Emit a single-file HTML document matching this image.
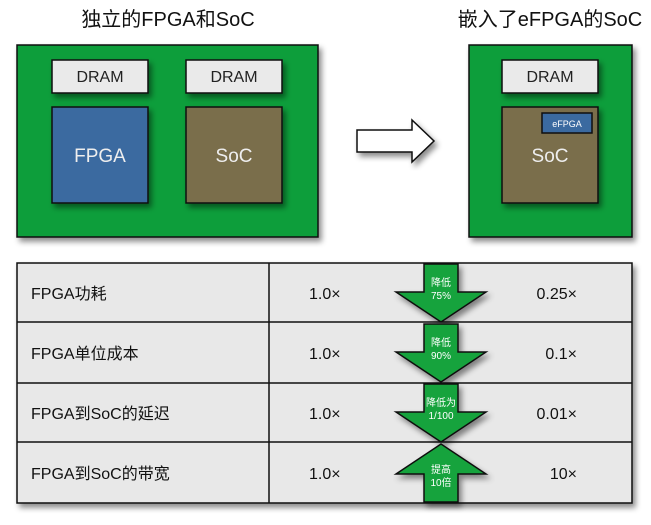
<!DOCTYPE html>
<html><head><meta charset="utf-8"><style>
body{margin:0;background:#fff;width:651px;height:520px;overflow:hidden}
svg text{font-family:"Liberation Sans","Noto Sans CJK SC",sans-serif}
</style></head><body>
<svg width="651" height="520" viewBox="0 0 651 520" xmlns="http://www.w3.org/2000/svg">
<defs>
<filter id="sh" x="-10%" y="-10%" width="130%" height="130%"><feDropShadow dx="3" dy="4" stdDeviation="3" flood-color="#000" flood-opacity="0.45"/></filter>
</defs>
<text x="168" y="26" font-size="20" text-anchor="middle" fill="#111">独立的FPGA和SoC</text>
<text x="550" y="26" font-size="20" text-anchor="middle" fill="#111">嵌入了eFPGA的SoC</text>
<rect x="17" y="45" width="301" height="192" fill="#0a9e3a" stroke="#111" stroke-width="1.5" filter="url(#sh)"/>
<rect x="469" y="45" width="163" height="192" fill="#0a9e3a" stroke="#111" stroke-width="1.5" filter="url(#sh)"/>
<g stroke="#111" stroke-width="1.5" filter="url(#sh)">
<rect x="52" y="60" width="96" height="33" fill="#eaeaea"/>
<rect x="186" y="60" width="96" height="33" fill="#eaeaea"/>
<rect x="502" y="60" width="96" height="33" fill="#eaeaea"/>
<rect x="52" y="107" width="96" height="96" fill="#3a6aa0"/>
<rect x="186" y="107" width="96" height="96" fill="#7a6e4c"/>
<rect x="502" y="107" width="96" height="96" fill="#7a6e4c"/>
<rect x="542" y="113" width="50" height="20" fill="#3a6aa0"/>
</g>
<g font-size="16" text-anchor="middle" fill="#222">
<text x="100" y="82">DRAM</text><text x="234" y="82">DRAM</text><text x="550" y="82">DRAM</text>
</g>
<g font-size="19" text-anchor="middle" fill="#eee">
<text x="100" y="162">FPGA</text><text x="234" y="162">SoC</text><text x="550" y="162">SoC</text>
</g>
<text x="567" y="127" font-size="9" text-anchor="middle" fill="#fff">eFPGA</text>
<path d="M357,130 H412 V120 L434,141 L412,162 V152 H357 Z" fill="#fff" stroke="#111" stroke-width="1.5" filter="url(#sh)"/>
<g filter="url(#sh)">
<rect x="17" y="263" width="615" height="240" fill="#e8e8e8" stroke="#111" stroke-width="1.5"/>
</g>
<g stroke="#111" stroke-width="1.5">
<line x1="17" y1="322" x2="632" y2="322"/><line x1="17" y1="383" x2="632" y2="383"/><line x1="17" y1="442" x2="632" y2="442"/>
<line x1="269" y1="263" x2="269" y2="503"/>
</g>
<g font-size="16" fill="#111">
<text x="31" y="299">FPGA功耗</text>
<text x="31" y="359">FPGA单位成本</text>
<text x="31" y="419">FPGA到SoC的延迟</text>
<text x="31" y="479">FPGA到SoC的带宽</text>
<text x="309" y="299">1.0×</text><text x="309" y="359">1.0×</text><text x="309" y="419">1.0×</text><text x="309" y="479">1.0×</text>
</g>
<g font-size="16" fill="#111" text-anchor="end">
<text x="577" y="299">0.25×</text><text x="577" y="359">0.1×</text><text x="577" y="419">0.01×</text><text x="577" y="479">10×</text>
</g>
<g fill="#16a33c" stroke="#111" stroke-width="1.5" filter="url(#sh)">
<path d="M424,264 H458 V292 H486 L441,322 L396,292 H424 Z"/>
<path d="M424,324 H458 V352 H486 L441,382 L396,352 H424 Z"/>
<path d="M424,384 H458 V412 H486 L441,442 L396,412 H424 Z"/>
<path d="M424,502 H458 V474 H486 L441,444 L396,474 H424 Z"/>
</g>
<g font-size="10" fill="#fff" text-anchor="middle">
<text x="441" y="286">降低</text><text x="441" y="299">75%</text>
<text x="441" y="346">降低</text><text x="441" y="359">90%</text>
<text x="441" y="406">降低为</text><text x="441" y="419">1/100</text>
<text x="441" y="473">提高</text><text x="441" y="486">10倍</text>
</g>
</svg>
</body></html>
